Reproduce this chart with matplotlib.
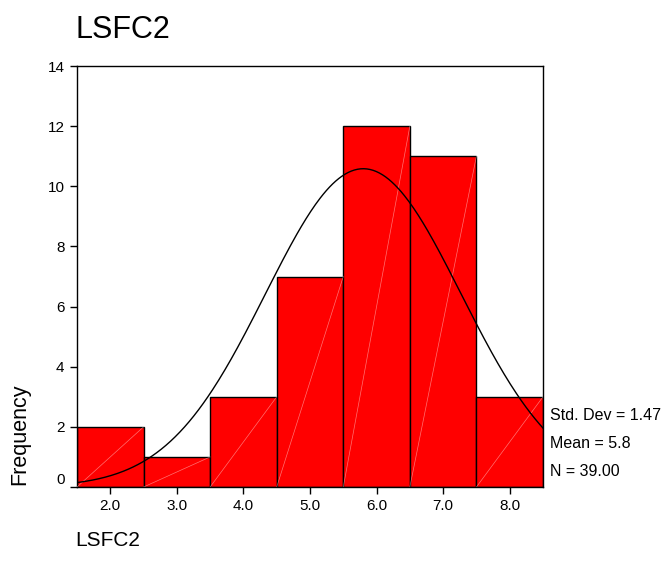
import numpy as np
import matplotlib.pyplot as plt

plt.rcParams['font.family'] = ['Liberation Sans', 'DejaVu Sans']

# histogram data
centers = [2.0, 3.0, 4.0, 5.0, 6.0, 7.0, 8.0]
counts = [2, 1, 3, 7, 12, 11, 3]
mean = 5.8
std = 1.47
n = 39
xticks = [2.0, 3.0, 4.0, 5.0, 6.0, 7.0, 8.0]
yticks = [0, 2, 4, 6, 8, 10, 12, 14]

fig = plt.figure(figsize=(6.64, 5.66), dpi=100)
ax = fig.add_axes([77/664, 1 - 487/566, (543-77)/664, (487-66)/566])

ax.bar(centers, counts, width=1.0, color="#ff0000", edgecolor="black", linewidth=1.0, zorder=2)

# faint diagonal streaks inside the bars
for c, h in zip(centers, counts):
    ax.plot([c - 0.5, c + 0.5], [0, h], color="white", lw=0.5, alpha=0.45, zorder=3)

# normal curve
xs = np.linspace(1.5, 8.5, 300)
ys = n * 1.0 / (std * np.sqrt(2 * np.pi)) * np.exp(-0.5 * ((xs - mean) / std) ** 2)
ax.plot(xs, ys, color="black", lw=1.0, zorder=4)

ax.set_xlim(1.5, 8.5)
ax.set_ylim(0, 14)
ax.set_xticks(xticks)
ax.set_xticklabels(["%.1f" % t for t in xticks])
ax.set_yticks(yticks)
ax.tick_params(axis="both", labelsize=11, length=5, width=1, direction="out")
ax.tick_params(axis="y", pad=4)
ax.get_yticklabels()[0].set_verticalalignment("bottom")
for s in ax.spines.values():
    s.set_linewidth(1.0)

fig.text(75/664, 1 - 30/566, "LSFC2", fontsize=22, va="center", ha="left")
fig.text(20/664, 1 - 434/566, "Frequency", fontsize=15.5, rotation=90, va="center", ha="center")
fig.text(75/664, 1 - 540/566, "LSFC2", fontsize=15, va="center", ha="left")

stats = ["Std. Dev = 1.47", "Mean = 5.8", "N = 39.00"]
for i, s in enumerate(stats):
    fig.text(550/664, 1 - (416 + 28 * i)/566, s, fontsize=11.5, va="center", ha="left")

fig.savefig("out.png", dpi=100)
